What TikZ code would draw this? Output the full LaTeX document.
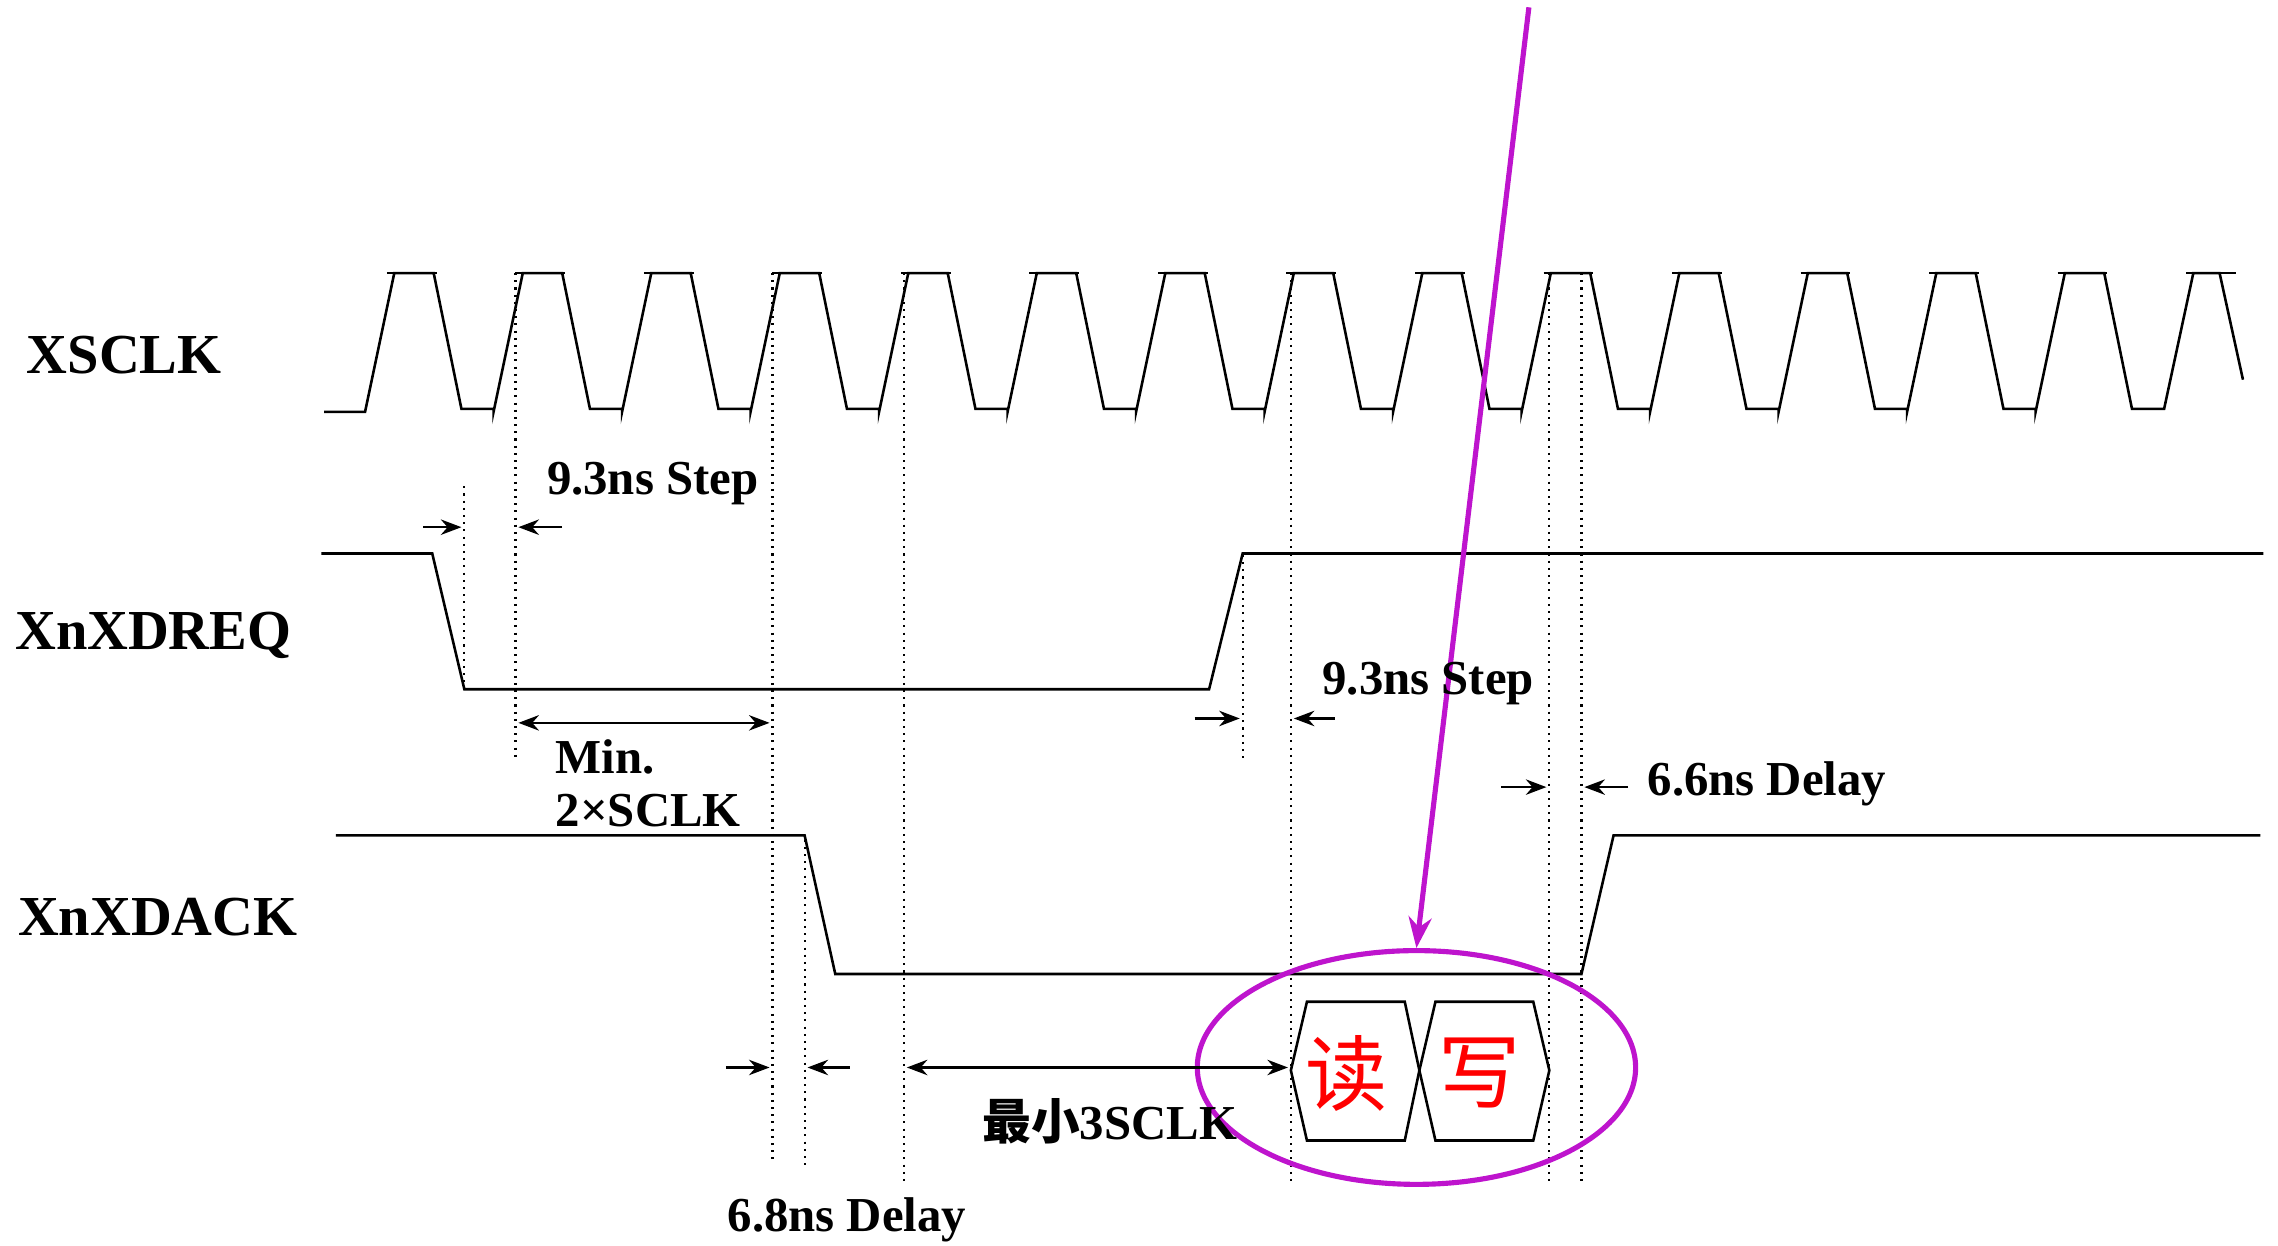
\documentclass[tikz,border=0pt]{standalone}
\usepackage{fontspec}
\setmainfont{Liberation Serif}
\newfontfamily\cjk{Noto Sans CJK SC}
\usetikzlibrary{arrows.meta,shapes.geometric}
\definecolor{ringcol}{RGB}{190,20,205}
\begin{document}
\begin{tikzpicture}[x=0.01cm,y=-0.01cm,line width=0.5pt,
    every node/.style={font=\bfseries\fontsize{9.5}{11}\selectfont},
    sig/.style={font=\bfseries\fontsize{11}{13}\selectfont},
    guide/.style={densely dotted,line width=0.4pt},
    tick/.style={-{Stealth[length=4pt]}},
    span/.style={{Stealth[length=4pt]}-{Stealth[length=4pt]}},
    hot/.style={ringcol,line width=1pt},
    rw/.style={text=red,font=\cjk\fontsize{16}{18}\selectfont}]
    \useasboundingbox (0,0) rectangle (1560,853);
    % signal names
    \node[sig] (clk) at (85,243) {XSCLK};
    \node[sig] (req) at (105,435) {XnXDREQ};
    \node[sig] (ack) at (108,628) {XnXDACK};
    % clock
    \draw (222,282) -- (250,282)
        \foreach \k in {0,...,13} {
            -- ({250+88*\k},282) -- ({270+88*\k},187) -- ({297+88*\k},187)
            -- ({316+88*\k},280) -- ({338+88*\k},280)}
        -- (1482,280) -- (1502,187) -- (1520,187) -- (1536,260);
    \foreach \k in {0,...,14}
        \draw ({265+88*\k},187) -- ({299+88*\k},187);
    % request and acknowledge
    \draw (220,379) -- (296,379) -- (318,472) -- (828,472) -- (851,379) -- (1550,379);
    \draw (230,572) -- (551,572) -- (572,667) -- (1083,667) -- (1105,572) -- (1548,572);
    % guide lines
    \draw[guide] (318,333) -- (318,475);
    \draw[guide] (353,187) -- (353,520);
    \draw[guide] (529,187) -- (529,795);
    \draw[guide] (551,575) -- (551,800);
    \draw[guide] (619,187) -- (619,810);
    \draw[guide] (851,380) -- (851,520);
    \foreach \x in {884,1061,1083}
        \draw[guide] (\x,187) -- (\x,810);
    % data
    \draw (884,733) -- (895,686) -- (962,686) -- (972,733) -- (962,781) -- (895,781) -- cycle;
    \draw (972,733) -- (983,686) -- (1050,686) -- (1061,733) -- (1050,781) -- (983,781) -- cycle;
    \node[rw] (rd) at (922,735) {读};
    \node[rw] (wr) at (1013,735) {写};
    \node[hot,draw,ellipse,minimum width=3cm,minimum height=1.6cm,inner sep=0] (ring) at (970,731) {};
    \coordinate (src) at (1047,5);
    \draw[hot,-{Stealth[length=6pt]}] (src) -- (ring.north);
    % timing marks
    \coordinate (a1) at (290,361); \coordinate (a2) at (316,361);
    \coordinate (a3) at (385,361); \coordinate (a4) at (355,361);
    \draw[tick] (a1) -- (a2);
    \draw[tick] (a3) -- (a4);
    \node (step1) at (447,331) {9.3ns Step};
    \coordinate (m1) at (355,495); \coordinate (m2) at (527,495);
    \draw[span] (m1) -- (m2);
    \node[anchor=west] (min) at (368,518) {Min.};
    \node[anchor=west] (min2) at (368,555) {2×SCLK};
    \coordinate (b1) at (818,492); \coordinate (b2) at (849,492);
    \coordinate (b3) at (914,492); \coordinate (b4) at (886,492);
    \draw[tick] (b1) -- (b2);
    \draw[tick] (b3) -- (b4);
    \node (step2) at (978,468) {9.3ns Step};
    \coordinate (c1) at (1028,539); \coordinate (c2) at (1059,539);
    \coordinate (c3) at (1115,539); \coordinate (c4) at (1085,539);
    \draw[tick] (c1) -- (c2);
    \draw[tick] (c3) -- (c4);
    \node (dly1) at (1210,537) {6.6ns Delay};
    \coordinate (d1) at (497,731); \coordinate (d2) at (527,731);
    \coordinate (d3) at (582,731); \coordinate (d4) at (553,731);
    \draw[tick] (d1) -- (d2);
    \draw[tick] (d3) -- (d4);
    \node (dly2) at (580,835) {6.8ns Delay};
    \coordinate (e1) at (621,731); \coordinate (e2) at (882,731);
    \draw[span] (e1) -- (e2);
    \node (three) at (760,768) {{\cjk\bfseries 最小}3SCLK};
\end{tikzpicture}
\end{document}
